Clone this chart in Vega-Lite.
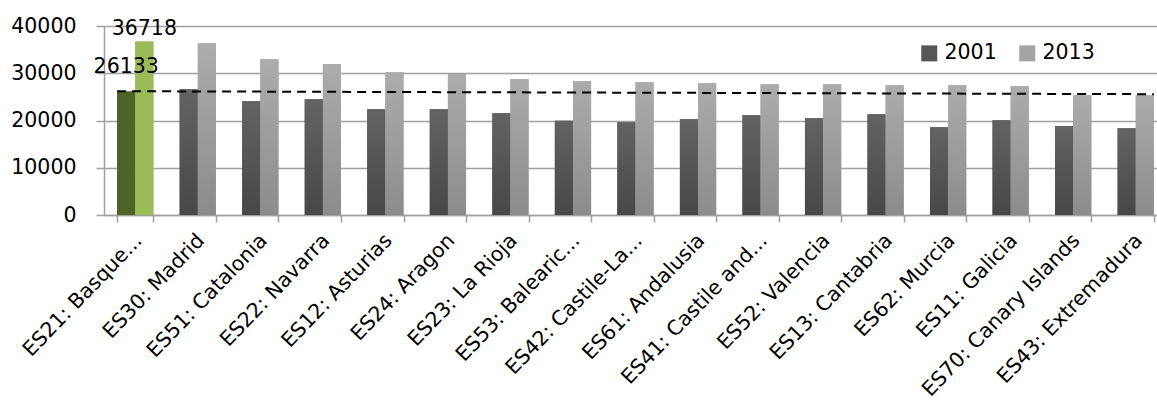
{
  "$schema": "https://vega.github.io/schema/vega-lite/v6.json",
  "autosize": "none",
  "width": 1063,
  "height": 189,
  "padding": {"left": 104, "top": 26, "right": 0, "bottom": 186},
  "background": "white",
  "config": {
    "view": {"stroke": null},
    "font": "DejaVu Sans",
    "axis": {"labelFont": "DejaVu Sans", "labelColor": "black"}
  },
  "data": {
    "values": [
      {"region": "ES21: Basque...", "year": "2001", "value": 26133},
      {"region": "ES21: Basque...", "year": "2013", "value": 36718},
      {"region": "ES30: Madrid", "year": "2001", "value": 26620},
      {"region": "ES30: Madrid", "year": "2013", "value": 36340},
      {"region": "ES51: Catalonia", "year": "2001", "value": 24090},
      {"region": "ES51: Catalonia", "year": "2013", "value": 32960},
      {"region": "ES22: Navarra", "year": "2001", "value": 24510},
      {"region": "ES22: Navarra", "year": "2013", "value": 31970},
      {"region": "ES12: Asturias", "year": "2001", "value": 22400},
      {"region": "ES12: Asturias", "year": "2013", "value": 30220},
      {"region": "ES24: Aragon", "year": "2001", "value": 22400},
      {"region": "ES24: Aragon", "year": "2013", "value": 29860},
      {"region": "ES23: La Rioja", "year": "2001", "value": 21550},
      {"region": "ES23: La Rioja", "year": "2013", "value": 28740},
      {"region": "ES53: Balearic...", "year": "2001", "value": 19930},
      {"region": "ES53: Balearic...", "year": "2013", "value": 28310},
      {"region": "ES42: Castile-La...", "year": "2001", "value": 19650},
      {"region": "ES42: Castile-La...", "year": "2013", "value": 28100},
      {"region": "ES61: Andalusia", "year": "2001", "value": 20280},
      {"region": "ES61: Andalusia", "year": "2013", "value": 27890},
      {"region": "ES41: Castile and...", "year": "2001", "value": 21130},
      {"region": "ES41: Castile and...", "year": "2013", "value": 27680},
      {"region": "ES52: Valencia", "year": "2001", "value": 20500},
      {"region": "ES52: Valencia", "year": "2013", "value": 27680},
      {"region": "ES13: Cantabria", "year": "2001", "value": 21340},
      {"region": "ES13: Cantabria", "year": "2013", "value": 27470},
      {"region": "ES62: Murcia", "year": "2001", "value": 18590},
      {"region": "ES62: Murcia", "year": "2013", "value": 27470},
      {"region": "ES11: Galicia", "year": "2001", "value": 20070},
      {"region": "ES11: Galicia", "year": "2013", "value": 27260},
      {"region": "ES70: Canary Islands", "year": "2001", "value": 18810},
      {"region": "ES70: Canary Islands", "year": "2013", "value": 25360},
      {"region": "ES43: Extremadura", "year": "2001", "value": 18380},
      {"region": "ES43: Extremadura", "year": "2013", "value": 25360}
    ]
  },
  "layer": [
    {
      "mark": {"type": "bar"},
      "encoding": {
        "x": {
          "field": "region", "type": "nominal", "sort": null,
          "scale": {"paddingInner": 0.42, "paddingOuter": 0.21},
          "axis": {
            "title": null, "labelAngle": -46, "labelAlign": "right", "labelBaseline": "middle",
            "labelFontSize": 20.5, "labelPadding": 15, "labelOffset": 3, "tickBand": "extent",
            "tickSize": 7, "tickColor": "#a0a0a0", "domainColor": "#a0a0a0", "labelLimit": 400,
            "tickWidth": 1.5, "domainWidth": 1.5
          }
        },
        "xOffset": {"field": "year", "type": "nominal", "scale": {"paddingInner": 0}},
        "y": {
          "field": "value", "type": "quantitative",
          "scale": {"domain": [0, 40000]},
          "axis": {
            "title": null, "values": [0, 10000, 20000, 30000, 40000], "format": "d",
            "labelFontSize": 20.5, "labelPadding": 20, "tickSize": 8, "tickColor": "#a0a0a0",
            "domainColor": "#a0a0a0", "gridColor": "#a0a0a0", "gridWidth": 1.5, "domainWidth": 1.5, "tickWidth": 1.5
          }
        },
        "color": {
          "field": "year", "type": "nominal",
          "scale": {"domain": ["2001", "2013"], "range": ["#575757", "#a4a4a4"]},
          "legend": {
            "title": null, "orient": "none", "legendX": 815, "legendY": 17, "direction": "horizontal",
            "symbolType": "square", "symbolSize": 256, "labelFontSize": 20.5, "labelFont": "DejaVu Sans",
            "columnPadding": 20, "labelOffset": 5, "symbolStrokeWidth": 0
          }
        }
      }
    },
    {
      "transform": [{"filter": "datum.year == '2001' && datum.region != 'ES21: Basque...'"}],
      "mark": {"type": "bar", "color": {"gradient": "linear", "x1": 0, "y1": 0, "x2": 0, "y2": 1, "stops": [{"offset": 0, "color": "#636363"}, {"offset": 1, "color": "#474747"}]}},
      "encoding": {
        "x": {"field": "region", "type": "nominal", "sort": null},
        "xOffset": {"field": "year", "type": "nominal"},
        "y": {"field": "value", "type": "quantitative"}
      }
    },
    {
      "transform": [{"filter": "datum.year == '2013' && datum.region != 'ES21: Basque...'"}],
      "mark": {"type": "bar", "color": {"gradient": "linear", "x1": 0, "y1": 0, "x2": 0, "y2": 1, "stops": [{"offset": 0, "color": "#acacac"}, {"offset": 1, "color": "#8c8c8c"}]}},
      "encoding": {
        "x": {"field": "region", "type": "nominal", "sort": null},
        "xOffset": {"field": "year", "type": "nominal"},
        "y": {"field": "value", "type": "quantitative"}
      }
    },
    {
      "transform": [{"filter": "datum.year == '2001' && datum.region == 'ES21: Basque...'"}],
      "mark": {"type": "bar", "color": "#4f6228"},
      "encoding": {
        "x": {"field": "region", "type": "nominal", "sort": null},
        "xOffset": {"field": "year", "type": "nominal"},
        "y": {"field": "value", "type": "quantitative"}
      }
    },
    {
      "transform": [{"filter": "datum.year == '2013' && datum.region == 'ES21: Basque...'"}],
      "mark": {"type": "bar", "color": "#9bbb59"},
      "encoding": {
        "x": {"field": "region", "type": "nominal", "sort": null},
        "xOffset": {"field": "year", "type": "nominal"},
        "y": {"field": "value", "type": "quantitative"}
      }
    },
    {
      "transform": [{"filter": "datum.year == '2001' && datum.region == 'ES21: Basque...'"}],
      "mark": {"type": "text", "fontSize": 20.5, "font": "DejaVu Sans", "baseline": "alphabetic", "dy": -19, "color": "black"},
      "encoding": {
        "x": {"field": "region", "type": "nominal", "sort": null},
        "xOffset": {"field": "year", "type": "nominal"},
        "y": {"field": "value", "type": "quantitative"},
        "text": {"field": "value", "type": "quantitative", "format": "d"}
      }
    },
    {
      "transform": [{"filter": "datum.year == '2013' && datum.region == 'ES21: Basque...'"}],
      "mark": {"type": "text", "fontSize": 20.5, "font": "DejaVu Sans", "baseline": "alphabetic", "dy": -7, "color": "black"},
      "encoding": {
        "x": {"field": "region", "type": "nominal", "sort": null},
        "xOffset": {"field": "year", "type": "nominal"},
        "y": {"field": "value", "type": "quantitative"},
        "text": {"field": "value", "type": "quantitative", "format": "d"}
      }
    },
    {
      "data": {"values": [{"start": 26200, "end": 25570}]},
      "mark": {"type": "rule", "color": "black", "strokeWidth": 2, "strokeDash": [9, 6]},
      "encoding": {
        "x": {"datum": "ES21: Basque...", "bandPosition": 0},
        "x2": {"datum": "ES43: Extremadura", "bandPosition": 1},
        "y": {"field": "start", "type": "quantitative"},
        "y2": {"field": "end"}
      }
    }
  ]
}
